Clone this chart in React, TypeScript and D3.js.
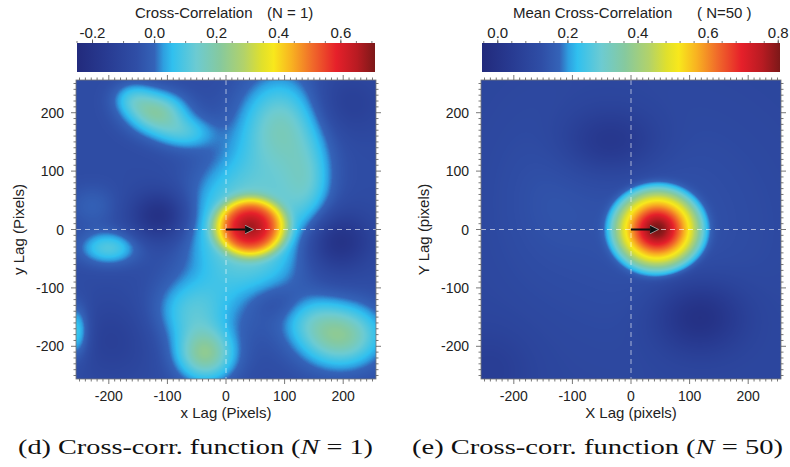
import React, { useMemo } from 'react';
import * as d3 from 'd3';

// lag axes (pixels)
const LAG_DOMAIN = [-256, 256];
const LAG_MAJOR = [-200, -100, 0, 100, 200];
const LAG_MINOR_STEP = 10;

// colour table (fraction along the bar -> colour)
const CMAP_STOPS = [0, 0.1, 0.2, 0.26, 0.29, 0.32, 0.4, 0.48, 0.56, 0.62, 0.66, 0.72, 0.79, 0.87, 0.94, 1];
const CMAP_COLORS = [
  '#222a7c', '#283b92', '#2f4ea6', '#3463b8', '#2e9fe0', '#30c0ef', '#6ccbd2', '#86c99e',
  '#b2d26a', '#e0e02c', '#f8e81c', '#f8b221', '#f06a2a', '#e6202a', '#b81b22', '#7c1818',
];

// colour bar ranges and ticks
const N1_CDOMAIN = [-0.25, 0.71];
const N1_CTICKS = [-0.2, 0.0, 0.2, 0.4, 0.6];
const N1_CMINOR = 0.05;
const N50_CDOMAIN = [-0.045, 0.805];
const N50_CTICKS = [0.0, 0.2, 0.4, 0.6, 0.8];
const N50_CMINOR = 0.04;

// correlation surface: base level + features [x, y, amp, sx, sy, power]
const N1_BASE = -0.07;
const N1_FEATURES = [
  [42, 4, 0.3, 58, 47, 6],
  [42, 4, 0.22, 30, 25, 2],
  [35, 0, 0.22, 75, 95, 2.4],
  [95, 180, 0.22, 50, 60, 2],
  [-118, 200, 0.25, 35, 25, 2],
  [-70, 165, 0.13, 35, 20, 2],
  [-160, 225, 0.11, 25, 20, 2],
  [140, 80, 0.13, 30, 50, 2],
  [-35, -215, 0.27, 35, 32, 2],
  [-60, -140, 0.15, 45, 40, 2],
  [195, -182, 0.28, 50, 38, 2],
  [140, -150, 0.07, 35, 30, 2],
  [-200, -32, 0.17, 35, 20, 2],
  [-228, 40, 0.06, 30, 25, 2],
  [-256, -175, 0.17, 16, 32, 2],
  [-112, 23, -0.15, 35, 30, 2],
  [190, -20, -0.14, 40, 35, 2],
  [200, 215, -0.07, 50, 40, 2],
  [-195, -190, -0.06, 50, 50, 2],
  [85, -125, -0.05, 35, 22, 2],
];
const N50_BASE = 0.09;
const N50_FEATURES = [
  [45, 0, 0.34, 72, 66, 6],
  [45, 0, 0.33, 30, 28, 2],
  [45, 0, 0.05, 130, 130, 2],
  [-35, 150, -0.09, 60, 40, 2],
  [115, -148, -0.12, 55, 45, 2],
  [-150, 60, 0.03, 60, 100, 2],
  [-240, -240, -0.04, 50, 50, 2],
];

// peak offset arrows (from origin)
const N1_ARROW = [44, 0];
const N50_ARROW = [44, 0];

const SANS = '"Liberation Sans", Arial, Helvetica, sans-serif';
const SERIF = '"Liberation Serif", "Times New Roman", serif';
const TXT = '#222';
const TOP = 80;
const BOTTOM = 379;

function surface(features, base, x, y) {
  let v = base;
  for (const [cx, cy, a, sx, sy, p] of features) {
    const dx = (x - cx) / sx;
    const dy = (y - cy) / sy;
    const q = dx * dx + dy * dy;
    v += a * Math.exp(-0.5 * Math.pow(q, p / 2));
  }
  return v;
}

function Panel({ left, features, base, cDomain, cTicks, cMinor, title, titleX, note, noteX, yLabel, xLabel, caption, arrow, capX, capLen, capN }) {
  const right = left + 300;
  const x = d3.scaleLinear().domain(LAG_DOMAIN).range([left, right]);
  const y = d3.scaleLinear().domain(LAG_DOMAIN).range([BOTTOM, TOP]);
  const c = d3.scaleLinear().domain(cDomain).range([left + 1, right - 1]);
  const gradId = `grad${left}`;
  const clipId = `clip${left}`;

  const href = useMemo(() => {
    const w = right - left;
    const h = BOTTOM - TOP;
    const canvas = document.createElement('canvas');
    canvas.width = w;
    canvas.height = h;
    const ctx = canvas.getContext('2d');
    const img = ctx.createImageData(w, h);
    const col = d3
      .scaleLinear()
      .domain(CMAP_STOPS.map((s) => cDomain[0] + s * (cDomain[1] - cDomain[0])))
      .range(CMAP_COLORS)
      .interpolate(d3.interpolateRgb)
      .clamp(true);
    const lut = d3.range(512).map((i) => d3.rgb(col(cDomain[0] + (i / 511) * (cDomain[1] - cDomain[0]))));
    for (let j = 0; j < h; j++) {
      const dy = y.invert(TOP + j + 0.5);
      for (let i = 0; i < w; i++) {
        const dx = x.invert(left + i + 0.5);
        const v = surface(features, base, dx, dy);
        let k = Math.round(((v - cDomain[0]) / (cDomain[1] - cDomain[0])) * 511);
        k = Math.max(0, Math.min(511, k));
        const rgb = lut[k];
        const o = (j * w + i) * 4;
        img.data[o] = rgb.r;
        img.data[o + 1] = rgb.g;
        img.data[o + 2] = rgb.b;
        img.data[o + 3] = 255;
      }
    }
    ctx.putImageData(img, 0, 0);
    return canvas.toDataURL();
  }, [left]);

  const minor = d3.range(-250, 251, LAG_MINOR_STEP);
  const cMinorTicks = d3.range(Math.ceil(cDomain[0] / cMinor) * cMinor, cDomain[1] + 1e-9, cMinor);
  const mid = (left + right) / 2;
  const tickCol = '#555';

  return (
    <g>
      <defs>
        <linearGradient id={gradId} x1="0" x2="1" y1="0" y2="0">
          {CMAP_STOPS.map((s, i) => (
            <stop key={i} offset={s} stopColor={CMAP_COLORS[i]} />
          ))}
        </linearGradient>
        <clipPath id={clipId}>
          <rect x={left} y={TOP} width={right - left} height={BOTTOM - TOP} />
        </clipPath>
        <marker id={`arr${left}`} viewBox="0 0 10 10" refX="8" refY="5" markerWidth="4.5" markerHeight="4.5" orient="auto">
          <path d="M0,0 L10,5 L0,10 z" fill="#111" stroke="#bbb" strokeWidth={0.8} />
        </marker>
      </defs>

      {/* colour bar */}
      <text x={titleX} y={18} fontSize={15} fontFamily={SANS} fill={TXT}>
        {title}
      </text>
      <text x={noteX} y={18} fontSize={15} fontFamily={SANS} fill={TXT}>
        {note}
      </text>
      <rect x={left + 1} y={43} width={right - left - 2} height={29} fill={`url(#${gradId})`} />
      {cMinorTicks.map((t, i) => (
        <line key={i} x1={c(t)} x2={c(t)} y1={43} y2={41} stroke={tickCol} strokeWidth={0.8} />
      ))}
      {cTicks.map((t) => (
        <g key={t}>
          <line x1={c(t)} x2={c(t)} y1={43} y2={39.5} stroke={tickCol} strokeWidth={0.9} />
          <text x={c(t)} y={37.5} fontSize={15} fontFamily={SANS} fill={TXT} textAnchor="middle">
            {t.toFixed(1)}
          </text>
        </g>
      ))}

      {/* heat map */}
      <image href={href} x={left} y={TOP} width={right - left} height={BOTTOM - TOP} preserveAspectRatio="none" />
      <g clipPath={`url(#${clipId})`}>
        <line x1={x(0)} x2={x(0)} y1={TOP} y2={BOTTOM} stroke="#fff" strokeOpacity={0.6} strokeWidth={1} strokeDasharray="5 4" />
        <line x1={left} x2={right} y1={y(0)} y2={y(0)} stroke="#fff" strokeOpacity={0.6} strokeWidth={1} strokeDasharray="5 4" />
      </g>
      <line
        x1={x(0)}
        y1={y(0)}
        x2={x(arrow[0])}
        y2={y(arrow[1])}
        stroke="#111"
        strokeWidth={2}
        markerEnd={`url(#arr${left})`}
      />
      <rect x={left} y={TOP} width={right - left} height={BOTTOM - TOP} fill="none" stroke="#777" strokeWidth={0.8} />

      {/* frame ticks */}
      {minor.map((t) => {
        const major = t % 100 === 0;
        const L = major ? 5 : 2.5;
        return (
          <g key={t} stroke={tickCol} strokeWidth={0.8}>
            <line x1={x(t)} x2={x(t)} y1={BOTTOM} y2={BOTTOM + L} />
            <line x1={x(t)} x2={x(t)} y1={TOP} y2={TOP - L} />
            <line x1={left} x2={left - L} y1={y(t)} y2={y(t)} />
            <line x1={right} x2={right + L} y1={y(t)} y2={y(t)} />
          </g>
        );
      })}
      {LAG_MAJOR.map((t) => (
        <g key={t} fontSize={14} fontFamily={SANS} fill={TXT}>
          <text x={x(t)} y={400.5} textAnchor="middle">
            {t}
          </text>
          <text x={left - 12} y={y(t) + 5} textAnchor="end">
            {t}
          </text>
        </g>
      ))}
      <text x={mid} y={418} fontSize={15} fontFamily={SANS} fill={TXT} textAnchor="middle">
        {xLabel}
      </text>
      <text
        transform={`translate(${left - 52},${(TOP + BOTTOM) / 2}) rotate(-90)`}
        fontSize={15}
        fontFamily={SANS}
        fill={TXT}
        textAnchor="middle"
      >
        {yLabel}
      </text>

      {/* caption */}
      <text x={capX} y={454} fontSize={21} fontFamily={SERIF} fill="#111" textLength={capLen} lengthAdjust="spacingAndGlyphs">
        {caption}
        <tspan fontStyle="italic">N</tspan>
        {` = ${capN})`}
      </text>
    </g>
  );
}

export default function App() {
  return (
    <svg width={790} height={467} style={{ position: 'absolute', left: 0, top: 0, background: '#fff' }}>
      <rect width={790} height={467} fill="#fff" />
      <Panel
        left={76}
        features={N1_FEATURES}
        base={N1_BASE}
        cDomain={N1_CDOMAIN}
        cTicks={N1_CTICKS}
        cMinor={N1_CMINOR}
        title="Cross-Correlation"
        titleX={135}
        note="(N = 1)"
        noteX={267}
        yLabel="y Lag (Pixels)"
        xLabel="x Lag (Pixels)"
        caption="(d) Cross-corr. function ("
        capN="1"
        capX={18}
        capLen={355}
        arrow={N1_ARROW}
      />
      <Panel
        left={481}
        features={N50_FEATURES}
        base={N50_BASE}
        cDomain={N50_CDOMAIN}
        cTicks={N50_CTICKS}
        cMinor={N50_CMINOR}
        title="Mean Cross-Correlation"
        titleX={513}
        note="( N=50 )"
        noteX={697}
        yLabel="Y Lag (pixels)"
        xLabel="X Lag (pixels)"
        caption="(e) Cross-corr. function ("
        capN="50"
        capX={412}
        capLen={371}
        arrow={N50_ARROW}
      />
    </svg>
  );
}
